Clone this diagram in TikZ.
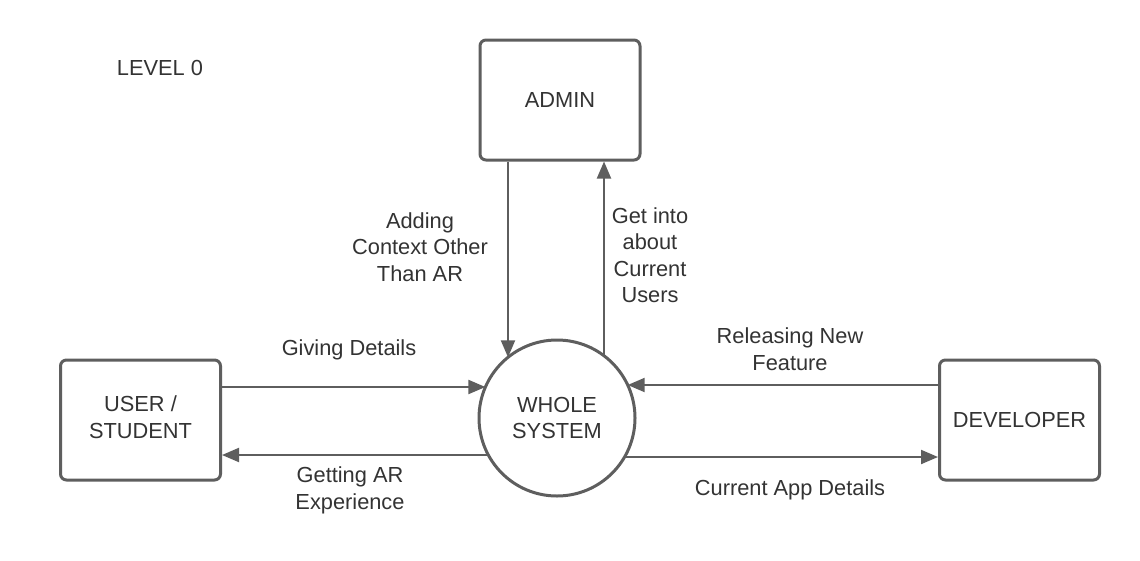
\documentclass[tikz,border=0pt]{standalone}
\usepackage{fontspec}
\setmainfont{Liberation Sans}
\usetikzlibrary{arrows.meta,calc}
\definecolor{ln}{HTML}{5E5E5E}
\definecolor{tx}{HTML}{333333}
\begin{document}
\begin{tikzpicture}[x=1pt,y=-1pt,
  every node/.style={font=\fontsize{21.8}{26.5}\selectfont, text=tx},
  ent/.style={draw=ln, line width=3pt, rounded corners=6pt, minimum width=160pt, minimum height=120pt, inner sep=0pt, align=center},
  proc/.style={draw=ln, line width=3pt, circle, minimum size=156pt, inner sep=0pt, align=center},
  flow/.style={draw=ln, line width=2pt, -{Triangle[length=17pt,width=14pt]}},
  lbl/.style={align=center, inner sep=0pt}]
\useasboundingbox (0,0) rectangle (1140,560);
\fill[white] (0,0) rectangle (1140,560);
\node[lbl] (lvl) at (160,68) {LEVEL 0};
\node[ent] (admin) at (560,100) {ADMIN};
\node[ent] (user) at (140.5,420) {};
\node[lbl] (usertxt) at (140.5,417) {USER /\\STUDENT};
\node[ent] (dev) at (1019.5,420) {DEVELOPER};
\node[proc] (sys) at (557,418) {WHOLE\\SYSTEM};
% vertical flows
\coordinate (a1) at (admin.south -| 508,0);
\coordinate (a2) at (admin.south -| 604,0);
\draw[flow] (a1) -- ($(sys.center)+(-49,-60.7)$);
\draw[flow] ($(sys.center)+(47,-62.2)$) -- (a2);
% horizontal flows
\draw[flow] (user.east |- 0,387) -- ($(sys.center)+(-71.6,-31)$);
\draw[flow] ($(sys.center)+(-68.7,37)$) -- (user.east |- 0,455);
\draw[flow] (dev.west |- 0,385) -- ($(sys.center)+(70.7,-33)$);
\draw[flow] ($(sys.center)+(67.5,39)$) -- (dev.west |- 0,457);
% labels
\node[lbl] (l1) at (420,247) {Adding\\Context Other\\Than AR};
\node[lbl] (l2) at (650,255) {Get into\\about\\Current\\Users};
\node[lbl] (l3) at (349,350) {Giving Details};
\node[lbl] (l4) at (790,349) {Releasing New\\Feature};
\node[lbl] (l5) at (350,490.5) {Getting AR\\Experience};
\node[lbl] (l6) at (790,490) {Current App Details};
\end{tikzpicture}
\end{document}
